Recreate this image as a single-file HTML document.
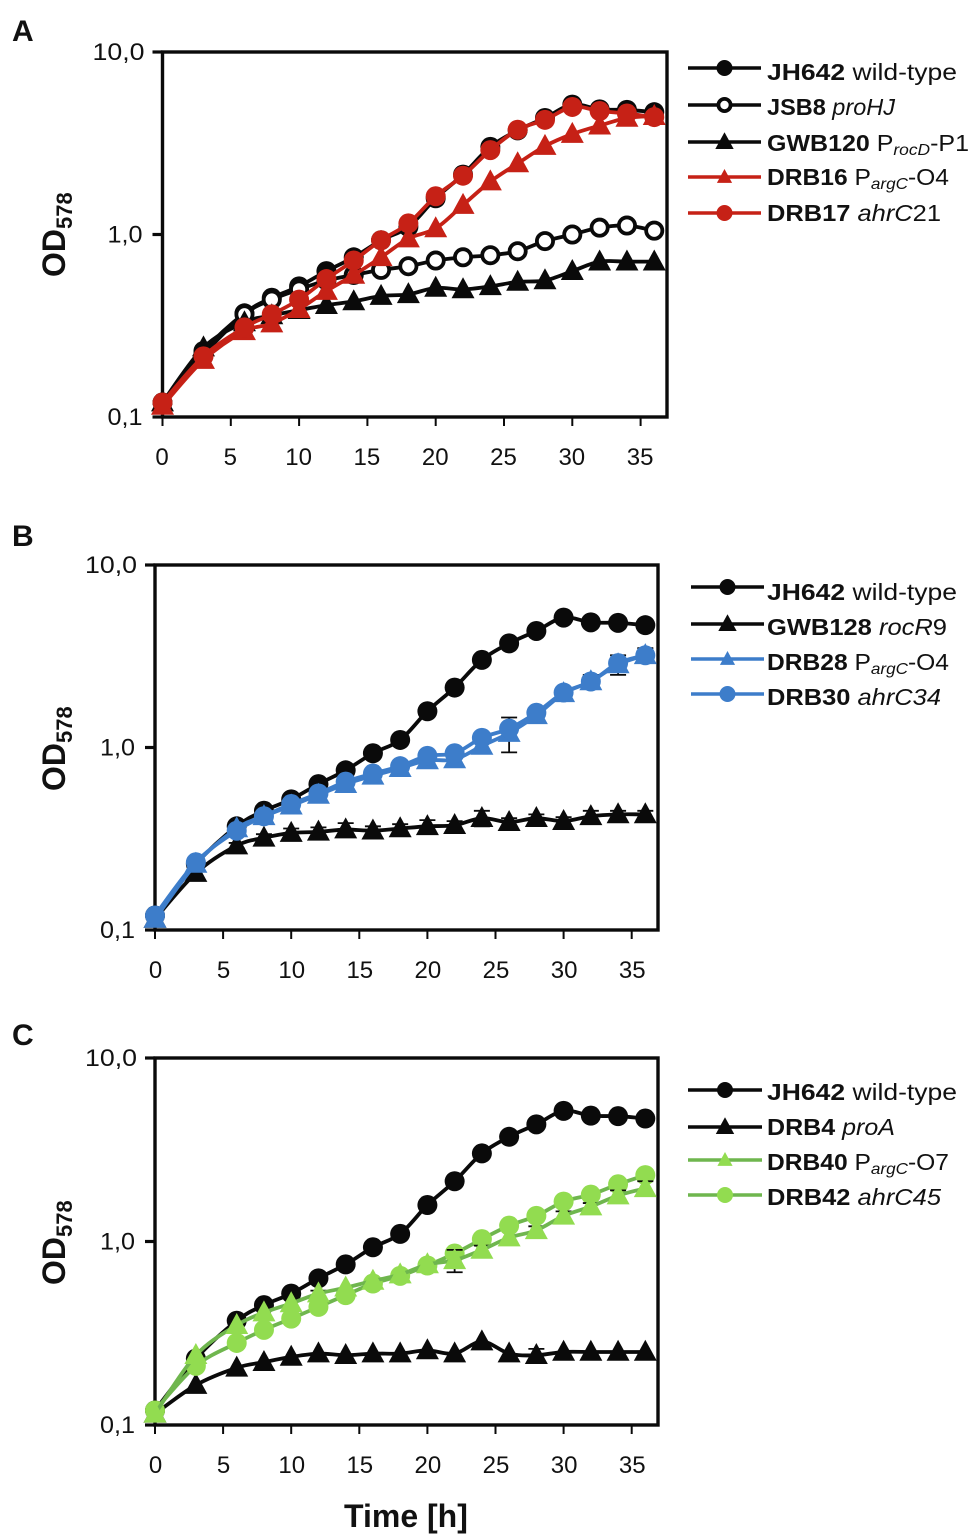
<!DOCTYPE html>
<html lang="en">
<head>
<meta charset="utf-8">
<title>Growth curves OD578</title>
<style>
html,body{margin:0;padding:0;background:#fff;}
svg{display:block;}
text{font-family:"Liberation Sans",sans-serif;fill:#111;}
.tick{font-size:24px;}
.leg{font-size:23px;}
.b{font-weight:700;}
.i{font-style:italic;}
.sub{font-size:16px;font-style:italic;}
.ttl{font-weight:700;font-size:32px;}
.ttlsub{font-weight:700;font-size:22px;}
.panel-letter{font-weight:700;font-size:30px;}
</style>
</head>
<body>
<svg id="fig" width="975" height="1537" viewBox="0 0 975 1537" xmlns="http://www.w3.org/2000/svg">
<rect width="975" height="1537" fill="#fff"/>
<text class="panel-letter" x="12" y="41">A</text>
<text class="panel-letter" x="12" y="546">B</text>
<text class="panel-letter" x="12" y="1045">C</text>

<g><text transform="translate(65,277) rotate(-90)" class="ttl">OD<tspan class="ttlsub" dy="7">578</tspan></text></g>
<g><text transform="translate(65,791) rotate(-90)" class="ttl">OD<tspan class="ttlsub" dy="7">578</tspan></text></g>
<g><text transform="translate(65,1285) rotate(-90)" class="ttl">OD<tspan class="ttlsub" dy="7">578</tspan></text></g>
<text class="ttl" x="344" y="1527">Time [h]</text>

<g>
<text class="leg" x="767" y="80" textLength="190" lengthAdjust="spacingAndGlyphs"><tspan class="b">JH642</tspan> wild-type</text>
<text class="leg" x="767" y="115" textLength="128" lengthAdjust="spacingAndGlyphs"><tspan class="b">JSB8</tspan> <tspan class="i">proHJ</tspan></text>
<text class="leg" x="767" y="151" textLength="202" lengthAdjust="spacingAndGlyphs"><tspan class="b">GWB120</tspan> P<tspan class="sub" dy="4">rocD</tspan><tspan dy="-4">-P1</tspan></text>
<text class="leg" x="767" y="185" textLength="182" lengthAdjust="spacingAndGlyphs"><tspan class="b">DRB16</tspan> P<tspan class="sub" dy="4">argC</tspan><tspan dy="-4">-O4</tspan></text>
<text class="leg" x="767" y="221" textLength="174" lengthAdjust="spacingAndGlyphs"><tspan class="b">DRB17</tspan> <tspan class="i">ahrC</tspan>21</text>
</g>
<g>
<text class="leg" x="767" y="600" textLength="190" lengthAdjust="spacingAndGlyphs"><tspan class="b">JH642</tspan> wild-type</text>
<text class="leg" x="767" y="635" textLength="180" lengthAdjust="spacingAndGlyphs"><tspan class="b">GWB128</tspan> <tspan class="i">rocR</tspan>9</text>
<text class="leg" x="767" y="670" textLength="182" lengthAdjust="spacingAndGlyphs"><tspan class="b">DRB28</tspan> P<tspan class="sub" dy="4">argC</tspan><tspan dy="-4">-O4</tspan></text>
<text class="leg" x="767" y="705" textLength="174" lengthAdjust="spacingAndGlyphs"><tspan class="b">DRB30</tspan> <tspan class="i">ahrC34</tspan></text>
</g>
<g>
<text class="leg" x="767" y="1100" textLength="190" lengthAdjust="spacingAndGlyphs"><tspan class="b">JH642</tspan> wild-type</text>
<text class="leg" x="767" y="1135" textLength="128" lengthAdjust="spacingAndGlyphs"><tspan class="b">DRB4</tspan> <tspan class="i">proA</tspan></text>
<text class="leg" x="767" y="1170" textLength="182" lengthAdjust="spacingAndGlyphs"><tspan class="b">DRB40</tspan> P<tspan class="sub" dy="4">argC</tspan><tspan dy="-4">-O7</tspan></text>
<text class="leg" x="767" y="1205" textLength="174" lengthAdjust="spacingAndGlyphs"><tspan class="b">DRB42</tspan> <tspan class="i">ahrC45</tspan></text>
</g>
</svg>
<script>
// Shared axis data
const hours = [0,3,6,8,10,12,14,16,18,20,22,24,26,28,30,32,34,36];
const xTickLabels = [0,5,10,15,20,25,30,35];
const yTickValues = [0.1,1,10];
const yTickLabels = ['0,1','1,0','10,0'];

// Series values (OD578)
const jh642 = [0.12,0.23,0.37,0.45,0.52,0.63,0.75,0.93,1.1,1.58,2.13,3.02,3.72,4.35,5.15,4.85,4.82,4.68];
const jsb8 = [0.12,0.22,0.365,0.44,0.5,0.56,0.6,0.64,0.67,0.72,0.75,0.77,0.81,0.92,1.0,1.09,1.12,1.05];
const gwb120 = [0.12,0.24,0.33,0.36,0.385,0.41,0.43,0.46,0.47,0.51,0.5,0.52,0.55,0.56,0.63,0.71,0.71,0.71];
const drb16 = [0.115,0.205,0.295,0.325,0.39,0.49,0.6,0.75,0.95,1.08,1.45,1.95,2.45,3.05,3.55,3.95,4.35,4.45];
const drb17 = [0.12,0.215,0.31,0.365,0.44,0.57,0.72,0.93,1.15,1.62,2.1,2.9,3.75,4.25,5.0,4.75,4.6,4.4];
const gwb128 = [0.115,0.205,0.29,0.32,0.34,0.345,0.355,0.35,0.36,0.37,0.375,0.41,0.39,0.41,0.395,0.42,0.43,0.43];
const drb28 = [0.115,0.23,0.36,0.42,0.48,0.55,0.63,0.7,0.77,0.85,0.86,1.02,1.2,1.5,1.98,2.3,2.85,3.2];
const drb30 = [0.12,0.235,0.35,0.42,0.49,0.56,0.65,0.72,0.79,0.9,0.93,1.13,1.27,1.55,2.0,2.3,2.9,3.2];
const drb4 = [0.115,0.165,0.205,0.22,0.235,0.245,0.24,0.245,0.245,0.255,0.245,0.285,0.245,0.24,0.25,0.25,0.25,0.25];
const drb40 = [0.115,0.24,0.35,0.41,0.46,0.52,0.56,0.61,0.66,0.75,0.79,0.9,1.05,1.15,1.38,1.55,1.78,1.95];
const drb42 = [0.12,0.21,0.28,0.33,0.38,0.44,0.51,0.59,0.65,0.74,0.86,1.03,1.22,1.38,1.65,1.8,2.05,2.3];

// Error bar half-widths (OD578)
const gwb128Err = [0,0,0.01,0.015,0.02,0.02,0.03,0.02,0.02,0.03,0.02,0.04,0.02,0.02,0.02,0.03,0.02,0.02];
const drb30Err = [0,0,0,0,0,0,0,0,0,0.03,0.05,0.08,0.26,0.1,0.06,0.2,0.35,0.3];
const drb4Err = [0,0,0,0,0,0,0,0,0,0,0,0,0,0.02,0,0,0,0];
const drb40Err = [0,0,0,0,0,0.02,0,0,0,0,0.11,0.05,0,0.06,0.08,0.07,0.12,0.18];

const BLACK = '#0a0a0a';
const RED = '#c62116';
const BLUE = '#3d7dca';
const GREEN_LINE = '#6fb64e';
const GREEN_FILL = '#92dc50';

const seriesA = [
  {id:'jh642',vals:jh642,stroke:BLACK,fill:BLACK,shape:'circle'},
  {id:'jsb8',vals:jsb8,stroke:BLACK,fill:'#fff',shape:'ring'},
  {id:'gwb120',vals:gwb120,stroke:BLACK,fill:BLACK,shape:'tri'},
  {id:'drb16',vals:drb16,stroke:RED,fill:RED,shape:'tri'},
  {id:'drb17',vals:drb17,stroke:RED,fill:RED,shape:'circle'}
];
const seriesB = [
  {id:'jh642',vals:jh642,stroke:BLACK,fill:BLACK,shape:'circle'},
  {id:'gwb128',vals:gwb128,err:gwb128Err,stroke:BLACK,fill:BLACK,shape:'tri'},
  {id:'drb28',vals:drb28,err:drb30Err,stroke:BLUE,fill:BLUE,shape:'tri'},
  {id:'drb30',vals:drb30,stroke:BLUE,fill:BLUE,shape:'circle'}
];
const seriesC = [
  {id:'jh642',vals:jh642,stroke:BLACK,fill:BLACK,shape:'circle'},
  {id:'drb4',vals:drb4,err:drb4Err,stroke:BLACK,fill:BLACK,shape:'tri'},
  {id:'drb42',vals:drb42,stroke:GREEN_LINE,fill:GREEN_FILL,shape:'circle'},
  {id:'drb40',vals:drb40,err:drb40Err,stroke:GREEN_LINE,fill:GREEN_FILL,shape:'tri'}
];

const NS = 'http://www.w3.org/2000/svg';
const fig = document.getElementById('fig');
function mk(tag, attrs, parent){
  const el = document.createElementNS(NS, tag);
  for (const k in attrs) el.setAttribute(k, attrs[k]);
  parent.appendChild(el);
  return el;
}
function triPoints(cx, cy, w, h){
  return (cx-w/2)+','+(cy+h*0.42)+' '+(cx+w/2)+','+(cy+h*0.42)+' '+cx+','+(cy-h*0.58);
}
function smoothPath(pts){
  let d = 'M'+pts[0][0]+' '+pts[0][1];
  for (let i=0;i<pts.length-1;i++){
    const p0=pts[Math.max(i-1,0)],p1=pts[i],p2=pts[i+1],p3=pts[Math.min(i+2,pts.length-1)];
    const c1x=p1[0]+(p2[0]-p0[0])/6,c1y=p1[1]+(p2[1]-p0[1])/6;
    const c2x=p2[0]-(p3[0]-p1[0])/6,c2y=p2[1]-(p3[1]-p1[1])/6;
    d+=' C'+c1x+' '+c1y+' '+c2x+' '+c2y+' '+p2[0]+' '+p2[1];
  }
  return d;
}
function drawMarker(shape, cx, cy, fill, stroke, size, parent){
  if (shape==='tri'){
    return mk('polygon',{points:triPoints(cx,cy,size*2.3,size*2.1),fill:fill},parent);
  }
  if (shape==='ring'){
    return mk('circle',{cx:cx,cy:cy,r:size-1.9,fill:'#fff',stroke:stroke,'stroke-width':3.8},parent);
  }
  return mk('circle',{cx:cx,cy:cy,r:size,fill:fill},parent);
}
function drawPanel(cfg){
  const g = mk('g',{},fig);
  
  
  const xs = t => cfg.left + (t*cfg.pxPerHour);
  const ys = v => cfg.bottom - (Math.log10(v)+1)*cfg.decade;
  const top = ys(10);

  const axes = mk('g',{},g);
  
  
  mk('rect',{x:cfg.left,y:top,width:cfg.right-cfg.left,height:cfg.bottom-top,fill:'none',stroke:BLACK,'stroke-width':3.4},axes);

  yTickValues.forEach((v,i)=>{
    const y = ys(v);
    const tk = mk('line',{x1:cfg.left-10,x2:cfg.left,y1:y,y2:y,stroke:BLACK,'stroke-width':3.2},axes);
    
    
    const wide = yTickLabels[i].length===4;
    const lb = mk('text',{class:'tick',x:cfg.left-(wide?18:20),y:y+8,'text-anchor':'end'},axes);
    
    
    lb.textContent = yTickLabels[i];
    lb.setAttribute('textLength', wide ? 52 : 35);
    lb.setAttribute('lengthAdjust', 'spacingAndGlyphs');
  });
  xTickLabels.forEach(t=>{
    const x = xs(t);
    const tk = mk('line',{x1:x,x2:x,y1:cfg.bottom,y2:cfg.bottom+9,stroke:BLACK,'stroke-width':2},axes);
    
    
    const lb = mk('text',{class:'tick',x:x+cfg.xLabelShift,y:cfg.bottom+48,'text-anchor':'middle'},axes);
    
    
    lb.textContent = t;
  });

  cfg.series.forEach(s=>{
    const sg = mk('g',{},g);
    
    
    if (s.err){
      s.vals.forEach((v,i)=>{
        const e = s.err[i];
        if (!e) return;
        const x = xs(hours[i]), y1 = ys(v+e), y2 = ys(Math.max(v-e,0.01));
        const bar = mk('path',{d:'M'+x+' '+y1+'V'+y2+'M'+(x-8)+' '+y1+'H'+(x+8)+'M'+(x-8)+' '+y2+'H'+(x+8),stroke:BLACK,'stroke-width':1.8,fill:'none'},sg);
        
        
      });
    }
    const pts = s.vals.map((v,i)=>[xs(hours[i]),ys(v)]);
    const line = mk('path',{d:smoothPath(pts),fill:'none',stroke:s.stroke,'stroke-width':3.8},sg);
    
    
    pts.forEach(p=>{
      const m = drawMarker(s.shape,p[0],p[1],s.fill,s.stroke,10,sg);
      
      
    });
  });

  cfg.legend.forEach(l=>{
    const lg = mk('g',{},g);
    
    
    mk('line',{x1:cfg.legX1,x2:cfg.legX2,y1:l.y,y2:l.y,stroke:l.stroke,'stroke-width':3.4},lg);
    const cx=(cfg.legX1+cfg.legX2)/2;
    drawMarker(l.shape,cx,l.y,l.fill,l.stroke,l.small?6.6:8,lg);
  });
}
drawPanel({key:'a',left:162.5,right:667,bottom:417,decade:182.5,pxPerHour:13.66,xLabelShift:-0.5,series:seriesA,legX1:688,legX2:761,legend:[
  {id:'jh642',y:68,shape:'circle',stroke:BLACK,fill:BLACK},
  {id:'jsb8',y:105,shape:'ring',stroke:BLACK,fill:'#fff'},
  {id:'gwb120',y:142,shape:'tri',stroke:BLACK,fill:BLACK},
  {id:'drb16',y:177,shape:'tri',stroke:RED,fill:RED,small:true},
  {id:'drb17',y:213,shape:'circle',stroke:RED,fill:RED}
]});
drawPanel({key:'b',left:155,right:658,bottom:930,decade:182.5,pxPerHour:13.62,xLabelShift:0.5,series:seriesB,legX1:691,legX2:764,legend:[
  {id:'jh642',y:587,shape:'circle',stroke:BLACK,fill:BLACK},
  {id:'gwb128',y:624,shape:'tri',stroke:BLACK,fill:BLACK},
  {id:'drb28',y:659,shape:'tri',stroke:BLUE,fill:BLUE,small:true},
  {id:'drb30',y:694,shape:'circle',stroke:BLUE,fill:BLUE}
]});
drawPanel({key:'c',left:155,right:658,bottom:1425,decade:183.5,pxPerHour:13.62,xLabelShift:0.5,series:seriesC,legX1:688,legX2:762,legend:[
  {id:'jh642',y:1090,shape:'circle',stroke:BLACK,fill:BLACK},
  {id:'drb4',y:1127,shape:'tri',stroke:BLACK,fill:BLACK},
  {id:'drb40',y:1160,shape:'tri',stroke:GREEN_LINE,fill:GREEN_FILL,small:true},
  {id:'drb42',y:1195,shape:'circle',stroke:GREEN_LINE,fill:GREEN_FILL}
]});
</script>
</body>
</html>
